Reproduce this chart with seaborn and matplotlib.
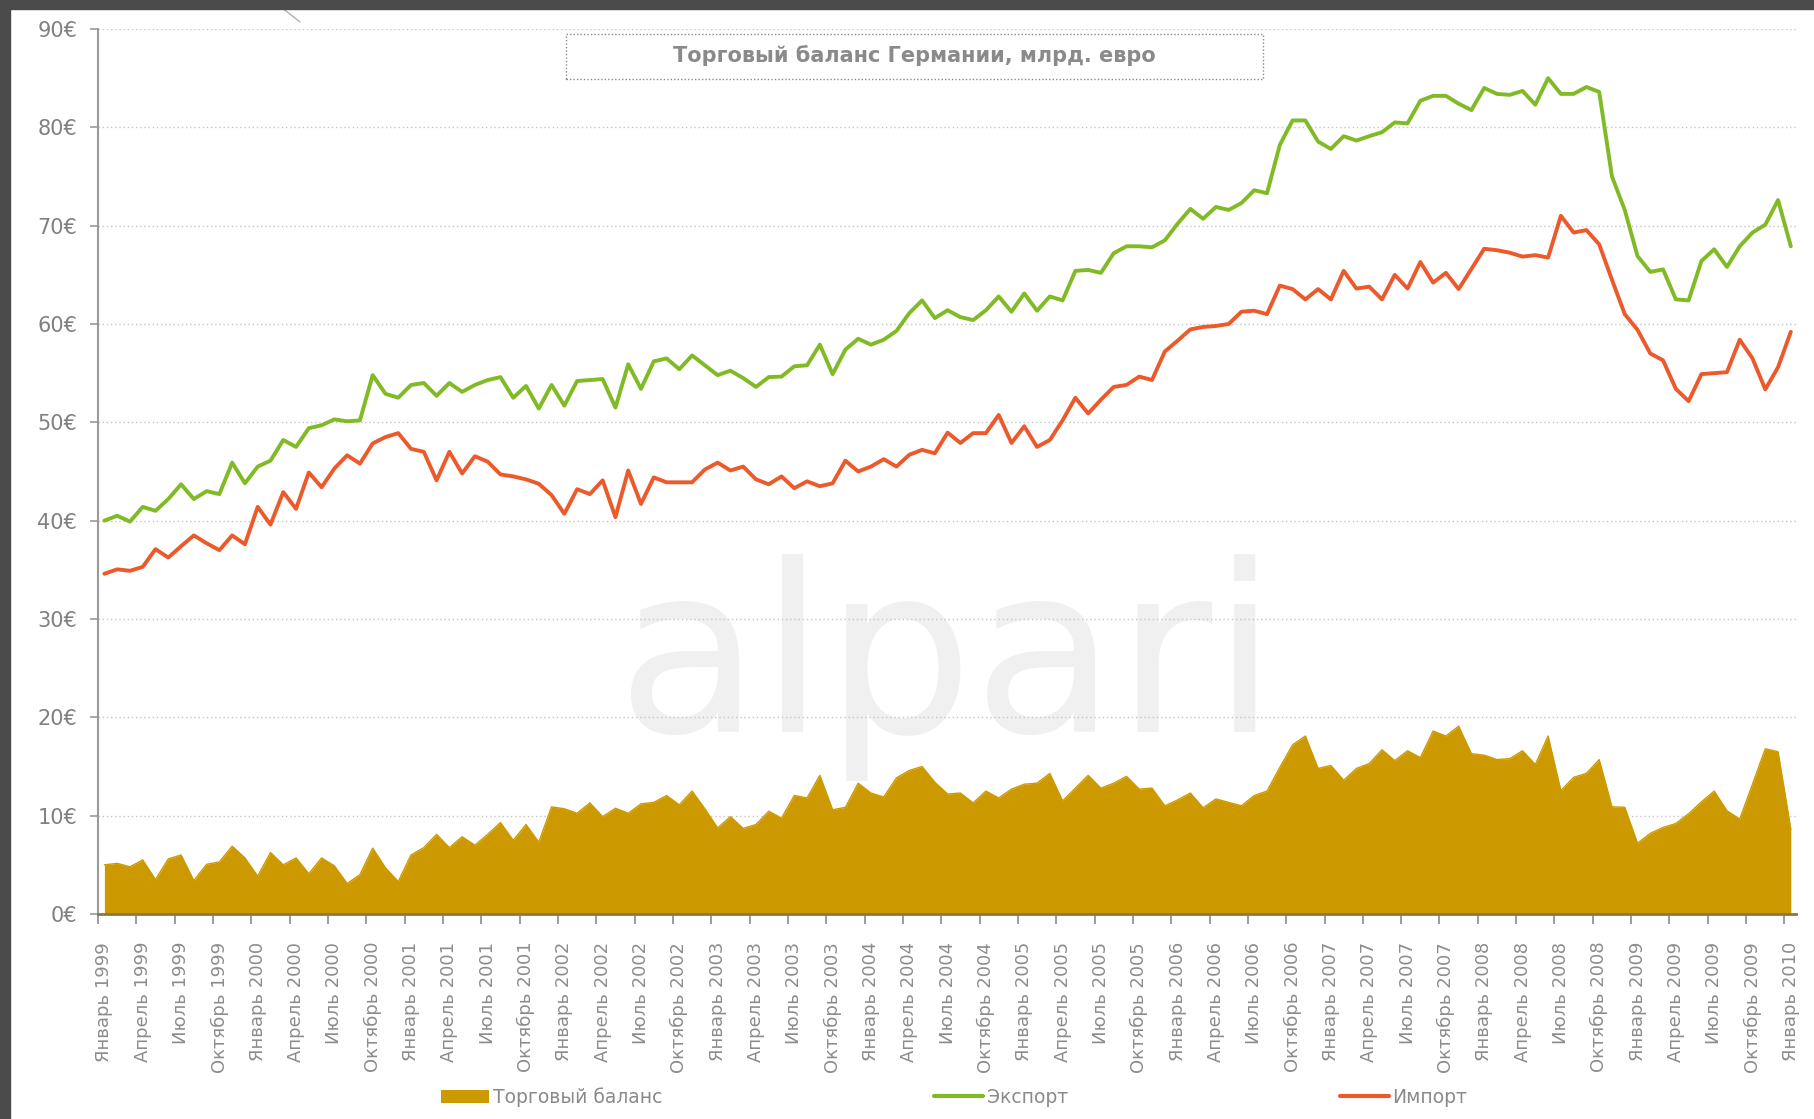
import numpy as np
import pandas as pd
import matplotlib
matplotlib.use('Agg')
import matplotlib.pyplot as plt
from matplotlib.patches import Rectangle, Patch
from matplotlib.lines import Line2D
import seaborn as sns

sns.set_theme(style='white')
plt.rcParams['font.family'] = ['DejaVu Sans']

# Monthly values, January 1999 - January 2010, bn EUR
export = [
    40.0, 40.5, 39.9, 41.4, 41.0, 42.2, 43.7, 42.2, 43.0, 42.7, 45.9, 43.8,
    45.5, 46.1, 48.2, 47.5, 49.4, 49.7, 50.3, 50.1, 50.2, 54.8, 52.9, 52.5,
    53.8, 54.0, 52.7, 54.0, 53.1, 53.8, 54.3, 54.6, 52.5, 53.7, 51.4, 53.8,
    51.7, 54.2, 54.3, 54.4, 51.5, 55.9, 53.4, 56.2, 56.5, 55.4, 56.8, 55.8,
    54.8, 55.25, 54.5, 53.6, 54.6, 54.65, 55.7, 55.8, 57.9, 54.9, 57.4, 58.5,
    57.9, 58.4, 59.3, 61.1, 62.4, 60.6, 61.4, 60.7, 60.4, 61.4, 62.8, 61.25,
    63.1, 61.35, 62.8, 62.4, 65.4, 65.5, 65.2, 67.2, 67.9, 67.9, 67.8, 68.5,
    70.2, 71.7, 70.7, 71.9, 71.6, 72.3, 73.6, 73.3, 78.2, 80.7, 80.7, 78.55,
    77.8, 79.1, 78.65, 79.1, 79.5, 80.5, 80.4, 82.7, 83.2, 83.2, 82.4, 81.75,
    84.0, 83.4, 83.3, 83.7, 82.3, 85.0, 83.4, 83.4, 84.1, 83.6, 75.0, 71.6,
    66.9, 65.3, 65.55, 62.5, 62.4, 66.4, 67.6, 65.8, 67.9, 69.3, 70.1, 72.6,
    67.9,
]
imports = [
    34.6, 35.05, 34.9, 35.3, 37.1, 36.25, 37.4, 38.5, 37.7, 37.0, 38.5, 37.6,
    41.4, 39.6, 42.9, 41.2, 44.9, 43.4, 45.3, 46.65, 45.8, 47.85, 48.5, 48.9,
    47.3, 47.0, 44.1, 47.0, 44.8, 46.55, 46.0, 44.7, 44.5, 44.2, 43.75, 42.6,
    40.7, 43.2, 42.7, 44.1, 40.35, 45.1, 41.7, 44.4, 43.9, 43.9, 43.9, 45.2,
    45.9, 45.1, 45.5, 44.2, 43.7, 44.5, 43.3, 44.0, 43.5, 43.8, 46.1, 45.0,
    45.5, 46.25, 45.5, 46.7, 47.2, 46.85, 48.95, 47.9, 48.9, 48.9, 50.75, 47.9,
    49.6, 47.5, 48.2, 50.2, 52.5, 50.9, 52.3, 53.6, 53.8, 54.65, 54.3, 57.2,
    58.3, 59.45, 59.7, 59.8, 60.0, 61.25, 61.35, 61.0, 63.9, 63.55, 62.5, 63.55,
    62.5, 65.4, 63.6, 63.8, 62.5, 65.0, 63.6, 66.3, 64.2, 65.2, 63.55, 65.6,
    67.65, 67.5, 67.25, 66.85, 67.0, 66.75, 71.0, 69.3, 69.55, 68.1, 64.5, 61.0,
    59.4, 57.0, 56.3, 53.4, 52.15, 54.9, 55.0, 55.1, 58.4, 56.5, 53.35, 55.6,
    59.2,
]
balance = [
    5.0, 5.15, 4.8, 5.5, 3.5, 5.6, 6.0, 3.4, 5.05, 5.3, 6.9, 5.7,
    3.85, 6.25, 5.0, 5.7, 4.1, 5.7, 4.9, 3.1, 4.0, 6.7, 4.7, 3.3,
    6.0, 6.75, 8.1, 6.75, 7.85, 7.0, 8.1, 9.3, 7.5, 9.1, 7.3, 10.9,
    10.7, 10.25, 11.3, 9.9, 10.75, 10.25, 11.2, 11.35, 12.05, 11.1, 12.5, 10.7,
    8.75, 9.9, 8.7, 9.1, 10.45, 9.75, 12.05, 11.8, 14.1, 10.6, 10.85, 13.3,
    12.3, 11.9, 13.85, 14.6, 15.0, 13.4, 12.2, 12.3, 11.3, 12.5, 11.8, 12.7,
    13.2, 13.3, 14.3, 11.5, 12.8, 14.1, 12.8, 13.3, 14.0, 12.7, 12.8, 11.0,
    11.6, 12.3, 10.8, 11.7, 11.35, 11.0, 12.05, 12.5, 14.9, 17.2, 18.1, 14.8,
    15.1, 13.6, 14.8, 15.3, 16.7, 15.6, 16.6, 15.9, 18.6, 18.1, 19.1, 16.3,
    16.15, 15.7, 15.8, 16.6, 15.2, 18.1, 12.55, 13.9, 14.3, 15.7, 10.9, 10.85,
    7.2, 8.2, 8.8, 9.2, 10.2, 11.4, 12.5, 10.5, 9.65, 13.2, 16.8, 16.5,
    8.6,
]

quarter_names = ['Январь', 'Апрель', 'Июль', 'Октябрь']
years = list(range(1999, 2011))
tick_labels = [f'{quarter_names[q]} {y}' for y in years for q in range(4)][:45]

series_names = ['Торговый баланс', 'Экспорт', 'Импорт']
colors = {'Торговый баланс': '#CC9A00', 'Экспорт': '#80BA24', 'Импорт': '#EC5A2C'}

months = np.arange(len(export))
lines = pd.DataFrame({'month': np.concatenate([months, months]),
                      'value': export + imports,
                      'series': ['Экспорт'] * len(export) + ['Импорт'] * len(imports)})

fig = plt.figure(figsize=(18.15, 11.19), dpi=100)
fig.patch.set_facecolor('white')
ax = fig.add_axes([0.054, 0.1832, 0.9355, 0.7909])

# watermark
ax.text(0.5, 0.278, 'alpari', transform=ax.transAxes, fontsize=168,
        color='#f0f0f0', ha='center', va='center', zorder=0)

# trade balance area
ax.fill_between(months, balance, 0, color=colors['Торговый баланс'], linewidth=0, zorder=2)
sns.lineplot(x=months, y=balance, color=colors['Торговый баланс'], linewidth=1, ax=ax, zorder=2)

sns.lineplot(data=lines, x='month', y='value', hue='series',
             palette={k: colors[k] for k in ['Экспорт', 'Импорт']},
             linewidth=2.8, legend=False, ax=ax, zorder=3)
for ln in ax.get_lines():
    ln.set_solid_joinstyle('round')
    ln.set_solid_capstyle('round')

ax.set_xlim(-0.5, 132.4)
ax.set_ylim(0, 90)
ax.set_xlabel('')
ax.set_ylabel('')

ax.set_yticks(range(0, 91, 10))
ax.set_yticklabels([f'{v}€' for v in range(0, 91, 10)])
ax.set_xticks(range(0, 133, 3))
ax.set_xticklabels(tick_labels, rotation=90)
ax.set_xticks(np.arange(-0.5, 133, 3), minor=True)

ax.yaxis.grid(True, linestyle=(0, (1, 2)), color='#c6c6c6', linewidth=1.0)
ax.xaxis.grid(False)
ax.set_axisbelow(True)

for s in ['top', 'right']:
    ax.spines[s].set_visible(False)
ax.spines['left'].set_color('#9a9a9a')
ax.spines['left'].set_linewidth(1.5)
ax.spines['bottom'].set_color('#8a7840')
ax.spines['bottom'].set_linewidth(2)
ax.spines['bottom'].set_zorder(4)

ax.tick_params(axis='y', left=True, length=6, width=1.2, color='#9a9a9a',
               labelsize=15, labelcolor='#808080', pad=9)
ax.tick_params(axis='x', which='major', bottom=True, length=0, pad=20,
               labelsize=13, labelcolor='#8c8c8c')
ax.tick_params(axis='x', which='minor', bottom=True, length=7, width=1.2, color='#8a8a8a')

# title box
fig.patches.append(Rectangle((566 / 1815, 1 - 79 / 1119), 697 / 1815, 45 / 1119,
                             transform=fig.transFigure, fill=False,
                             edgecolor='#8a8a8a', linestyle=(0, (1, 1.5)), linewidth=1))
fig.text(914 / 1815, 1 - 56 / 1119, 'Торговый баланс Германии, млрд. евро',
         ha='center', va='center', fontsize=15, fontweight='bold', color='#8a8a8a')

# dark frame edges
fig.patches.append(Rectangle((0, 1 - 9 / 1119), 1, 9 / 1119, transform=fig.transFigure,
                             color='#4b4b4b', zorder=10))
fig.patches.append(Rectangle((0, 0), 10 / 1815, 1, transform=fig.transFigure,
                             color='#4b4b4b', zorder=10))
fig.lines.append(Line2D([272 / 1815, 300 / 1815], [1, 1 - 22 / 1119], transform=fig.transFigure,
                        color='#b0b0b0', linewidth=1))

handles = [Patch(facecolor=colors['Торговый баланс'], edgecolor='none'),
           Line2D([0], [0], color=colors['Экспорт'], linewidth=3),
           Line2D([0], [0], color=colors['Импорт'], linewidth=3)]
fig.legend(handles, series_names, loc='center', bbox_to_anchor=(0.5256, 0.0195),
           ncol=3, frameon=False, fontsize=13.5, handlelength=2.6, handletextpad=0.2,
           columnspacing=14.5, labelcolor='#8a8a8a')

fig.savefig('out.png', dpi=100)
